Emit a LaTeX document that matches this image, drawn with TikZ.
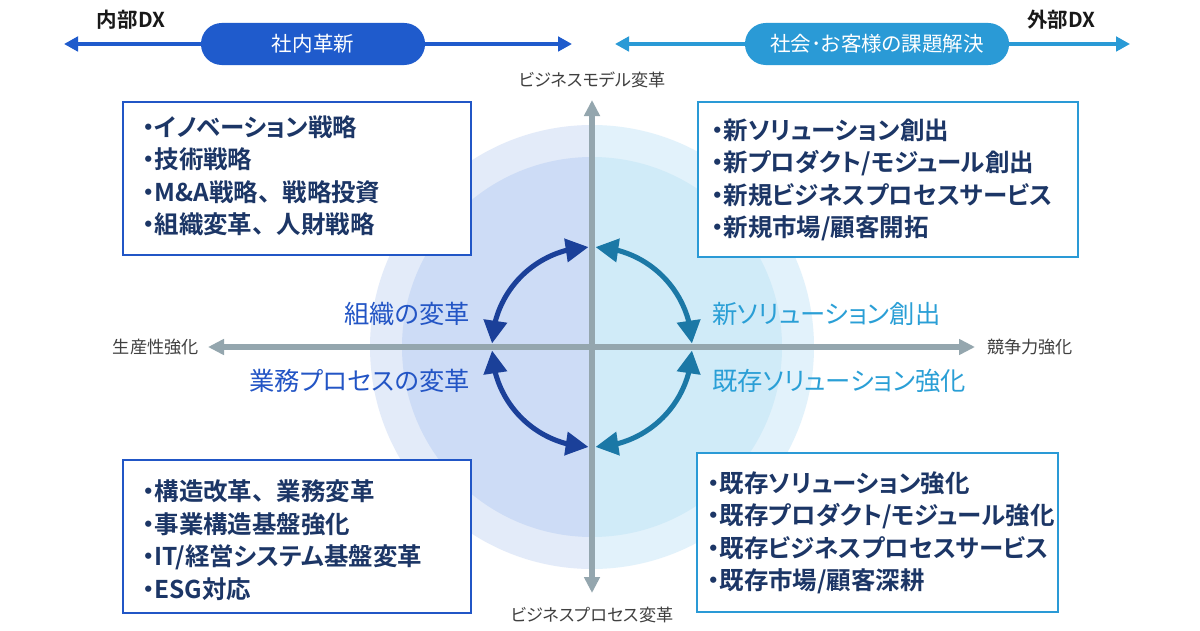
\documentclass[tikz,border=0pt]{standalone}
\usepackage{fontspec}
\setmainfont{Noto Sans CJK JP}[BoldFont={Noto Sans CJK JP Bold},RawFeature=+palt]
\usetikzlibrary{arrows.meta,bending,calc}

\definecolor{bandIn}{RGB}{31,91,204}
\definecolor{bandOut}{RGB}{42,154,214}
\definecolor{discOutL}{RGB}{227,235,249}
\definecolor{discInL}{RGB}{205,220,246}
\definecolor{discOutR}{RGB}{226,242,251}
\definecolor{discInR}{RGB}{208,235,248}
\definecolor{axisGray}{RGB}{148,166,174}
\definecolor{frameL}{RGB}{33,86,198}
\definecolor{frameR}{RGB}{42,154,214}
\definecolor{itemText}{RGB}{28,54,102}
\definecolor{loopL}{RGB}{27,64,153}
\definecolor{loopR}{RGB}{27,120,166}
\definecolor{tagL}{RGB}{35,85,197}
\definecolor{tagR}{RGB}{42,159,214}
\definecolor{axisText}{RGB}{64,64,64}

% full-width ideographic comma (palt narrows it)
\newcommand\fwcomma{、\kern0.5em}

\tikzset{
  band/.style={line width=2.8pt,{Triangle[length=0.35cm,width=0.36cm]}-{Triangle[length=0.35cm,width=0.36cm]}},
  pill/.style={rounded corners=0.52cm,minimum height=1.05cm,inner sep=0pt,text=white,
    font=\fontsize{14.6}{16}\selectfont},
  dxtag/.style={font=\fontsize{14.6}{16}\selectfont\bfseries,text=black!90,inner sep=0pt},
  axisline/.style={draw=axisGray,line width=3.6pt,
    {Triangle[length=0.4cm,width=0.38cm]}-{Triangle[length=0.4cm,width=0.38cm]}},
  axislabel/.style={font=\fontsize{12.2}{14}\selectfont,text=axisText,inner sep=0pt},
  itembox/.style={draw,line width=1.6pt,fill=white,inner sep=0pt},
  itemlist/.style={font=\fontsize{17.4}{23.1}\selectfont\bfseries,text=itemText,
    align=left,inner sep=0pt,anchor=west},
  loop/.style={line width=3.6pt,
    {Triangle[length=0.57cm,width=0.57cm]}-{Triangle[length=0.57cm,width=0.57cm]}},
  quadtag/.style={font=\fontsize{18}{20}\selectfont,inner sep=0pt}
}

\begin{document}
\begin{tikzpicture}[x=0.025cm,y=-0.025cm]
\fill[white] (0,0) rectangle (1200,630);
\useasboundingbox (0,0) rectangle (1200,630);

\coordinate (o) at (592,347);

% two-tone discs behind the quadrants
\begin{scope}
  \clip (0,0) rectangle (592,630);
  \fill[discOutL] (o) circle[radius=222];
  \fill[discInL] (o) circle[radius=190];
\end{scope}
\begin{scope}
  \clip (592,0) rectangle (1200,630);
  \fill[discOutR] (o) circle[radius=222];
  \fill[discInR] (o) circle[radius=190];
\end{scope}

% axes
\coordinate (axT) at (592,100);
\coordinate (axB) at (592,593);
\coordinate (axL) at (208,347);
\coordinate (axR) at (975,347);
\draw[axisline] (axL) -- (axR);
\draw[axisline] (axB) -- (axT);

\node[axislabel] (lblTop) at (592,80) {ビジネスモデル変革};
\node[axislabel] (lblBot) at (592,615) {ビジネスプロセス変革};
\node[axislabel,anchor=east] (lblLeft) at (199,347) {生産性強化};
\node[axislabel,anchor=west] (lblRight) at (987,347) {競争力強化};

% top bands
\coordinate (inL) at (64,44);
\coordinate (inR) at (572,44);
\coordinate (outL) at (615,44);
\coordinate (outR) at (1130,44);
\draw[band,draw=bandIn,bandIn] (inL) -- (inR);
\draw[band,draw=bandOut,bandOut] (outL) -- (outR);
\node[pill,fill=bandIn,minimum width=5.6cm] (pillIn) at (313,44) {社内革新};
\node[pill,fill=bandOut,minimum width=6.6cm] (pillOut) at (877,44) {社会･お客様の課題解決};
\node[dxtag] (dxIn) at (131,20) {内部DX};
\node[dxtag] (dxOut) at (1061,20) {外部DX};

% quadrant boxes
\node[itembox,draw=frameL,minimum width=8.7cm,minimum height=3.825cm] (boxTL) at (297,178.5) {};
\node[itembox,draw=frameR,minimum width=9.5cm,minimum height=3.875cm] (boxTR) at (888,179.5) {};
\node[itembox,draw=frameL,minimum width=8.7cm,minimum height=3.825cm] (boxBL) at (297,536.5) {};
\node[itembox,draw=frameR,minimum width=9.025cm,minimum height=3.975cm] (boxBR) at (877.5,532.5) {};

\node[itemlist] (txtTL) at (142,176) {・イノベーション戦略\\・技術戦略\\・M\&A戦略\fwcomma 戦略投資\\・組織変革\fwcomma 人財戦略};
\node[itemlist] (txtTR) at (711,180) {・新ソリューション創出\\・新プロダクト/モジュール創出\\・新規ビジネスプロセスサービス\\・新規市場/顧客開拓};
\node[itemlist] (txtBL) at (142,540) {・構造改革\fwcomma 業務変革\\・事業構造基盤強化\\・IT/経営システム基盤変革\\・ESG対応};
\node[itemlist] (txtBR) at (707,533) {・既存ソリューション強化\\・既存プロダクト/モジュール強化\\・既存ビジネスプロセスサービス\\・既存市場/顧客深耕};

% cycle arrows
\draw[loop,draw=loopL,loopL] (o) ++(-92:100) arc[start angle=-92,end angle=-178,radius=100];
\draw[loop,draw=loopL,loopL] (o) ++(92:100) arc[start angle=92,end angle=178,radius=100];
\draw[loop,draw=loopR,loopR] (o) ++(-88:100) arc[start angle=-88,end angle=-2,radius=100];
\draw[loop,draw=loopR,loopR] (o) ++(88:100) arc[start angle=88,end angle=2,radius=100];

\node[quadtag,text=tagL,anchor=east] (tagOrg) at (470,314) {組織の変革};
\node[quadtag,text=tagL,anchor=east] (tagProc) at (470,381) {業務プロセスの変革};
\node[quadtag,text=tagR,anchor=west] (tagNew) at (712,314) {新ソリューション創出};
\node[quadtag,text=tagR,anchor=west] (tagOld) at (712,381) {既存ソリューション強化};
\end{tikzpicture}
\end{document}
